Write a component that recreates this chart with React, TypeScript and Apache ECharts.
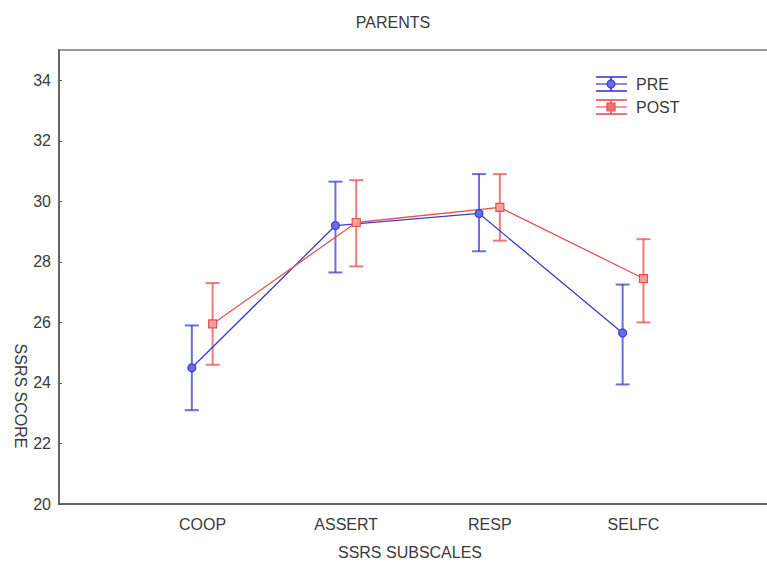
import React, { useEffect, useRef } from "react";
import * as echarts from "echarts";

const categories = ["COOP", "ASSERT", "RESP", "SELFC"];
const preMean = [24.5, 29.2, 29.6, 25.65];
const preLow = [23.1, 27.65, 28.35, 23.95];
const preHigh = [25.9, 30.65, 30.9, 27.25];
const postMean = [25.95, 29.3, 29.8, 27.45];
const postLow = [24.6, 27.85, 28.7, 26.0];
const postHigh = [27.3, 30.7, 30.9, 28.75];
const yTicks = [20, 22, 24, 26, 28, 30, 32, 34];

const PRE_OFFSET = -0.075;
const POST_OFFSET = 0.07;
const BLUE = "#3c3cd6";
const RED = "#e85050";
const FONT = "Liberation Sans, Arial, sans-serif";
const TXT = "#3a3a3a";
const FS = 16;

function errorSeries(name: string, low: number[], high: number[], off: number, color: string) {
  return {
    type: "custom",
    name,
    silent: true,
    z: 3,
    data: low.map((l, i) => [i + 1 + off, l, high[i]]),
    renderItem: (params: any, api: any) => {
      const x = api.value(0);
      const lo = api.coord([x, api.value(1)]);
      const hi = api.coord([x, api.value(2)]);
      const w = 7;
      const style = { stroke: color, lineWidth: 2, opacity: 0.75 };
      return {
        type: "group",
        children: [
          { type: "line", shape: { x1: lo[0], y1: lo[1], x2: hi[0], y2: hi[1] }, style },
          { type: "line", shape: { x1: hi[0] - w, y1: hi[1], x2: hi[0] + w, y2: hi[1] }, style },
          { type: "line", shape: { x1: lo[0] - w, y1: lo[1], x2: lo[0] + w, y2: lo[1] }, style },
        ],
      };
    },
  };
}

function legendItem(y: number, color: string, fill: string, label: string, symbol: "circle" | "rect") {
  const x0 = 596, x1 = 627, cx = 611;
  const ls = { stroke: color, lineWidth: 2, opacity: 0.8 };
  return [
    { type: "line", shape: { x1: x0, y1: y - 7, x2: x1, y2: y - 7 }, style: ls },
    { type: "line", shape: { x1: x0, y1: y, x2: x1, y2: y }, style: { stroke: color, lineWidth: 1.2 } },
    { type: "line", shape: { x1: x0, y1: y + 7, x2: x1, y2: y + 7 }, style: ls },
    { type: "line", shape: { x1: cx, y1: y - 7, x2: cx, y2: y + 7 }, style: ls },
    symbol === "circle"
      ? { type: "circle", shape: { cx, cy: y, r: 4 }, style: { fill, stroke: color, lineWidth: 1.2 } }
      : { type: "rect", shape: { x: cx - 4, y: y - 4, width: 8, height: 8 }, style: { fill, stroke: color, lineWidth: 1.2 } },
    {
      type: "text",
      x: 636,
      y,
      style: { text: label, fill: TXT, font: `${FS}px ${FONT}`, textAlign: "left", textVerticalAlign: "middle" },
    },
  ];
}

export default function App() {
  const ref = useRef<HTMLDivElement>(null);
  useEffect(() => {
    if (!ref.current) return;
    const chart = echarts.init(ref.current, null, { renderer: "svg" });
    chart.setOption({
      animation: false,
      backgroundColor: "#ffffff",
      grid: {
        left: 59,
        top: 50,
        width: 718,
        height: 454,
        show: true,
        borderColor: "#777",
        borderWidth: 1.5,
        backgroundColor: "transparent",
      },
      xAxis: {
        type: "value",
        min: 0,
        max: 5,
        interval: 1,
        splitLine: { show: false },
        axisTick: { show: false },
        axisLine: { show: true, lineStyle: { color: "#666", width: 2 } },
        axisLabel: {
          color: TXT,
          fontSize: FS,
          fontFamily: FONT,
          margin: 12,
          formatter: (v: number) => categories[v - 1] ?? "",
        },
      },
      yAxis: {
        type: "value",
        min: 20,
        max: 35,
        interval: 2,
        splitLine: { show: false },
        axisLine: { show: true, lineStyle: { color: "#666", width: 2 } },
        axisTick: { show: true, inside: true, length: 3, lineStyle: { color: "#555" }, customValues: yTicks },
        axisLabel: {
          color: TXT,
          fontSize: FS,
          fontFamily: FONT,
          margin: 8,
          customValues: yTicks,
        },
      },
      series: [
        errorSeries("PRE-err", preLow, preHigh, PRE_OFFSET, BLUE),
        errorSeries("POST-err", postLow, postHigh, POST_OFFSET, RED),
        {
          type: "line",
          name: "PRE",
          z: 4,
          data: preMean.map((m, i) => [i + 1 + PRE_OFFSET, m]),
          lineStyle: { color: BLUE, width: 1.3 },
          symbol: "circle",
          symbolSize: 8,
          itemStyle: { color: "#6a6ae8", borderColor: BLUE, borderWidth: 1.2 },
        },
        {
          type: "line",
          name: "POST",
          z: 4,
          data: postMean.map((m, i) => [i + 1 + POST_OFFSET, m]),
          lineStyle: { color: RED, width: 1.3 },
          symbol: "rect",
          symbolSize: 8,
          itemStyle: { color: "#f4a0a0", borderColor: RED, borderWidth: 1.2 },
        },
      ],
      graphic: [
        {
          type: "text",
          x: 393,
          y: 22,
          style: { text: "PARENTS", fill: TXT, font: `${FS}px ${FONT}`, textAlign: "center", textVerticalAlign: "middle" },
        },
        {
          type: "text",
          x: 410,
          y: 552,
          style: { text: "SSRS SUBSCALES", fill: TXT, font: `${FS}px ${FONT}`, textAlign: "center", textVerticalAlign: "middle" },
        },
        {
          type: "text",
          x: 20,
          y: 396,
          rotation: -Math.PI / 2,
          style: { text: "SSRS SCORE", fill: TXT, font: `${FS}px ${FONT}`, textAlign: "center", textVerticalAlign: "middle" },
        },
        ...legendItem(84, BLUE, "#6a6ae8", "PRE", "circle"),
        ...legendItem(107, RED, "#f07070", "POST", "rect"),
      ],
    });
    return () => chart.dispose();
  }, []);
  return (
    <div style={{ position: "fixed", left: 0, top: 0, width: 767, height: 567, overflow: "hidden", background: "#fff" }}>
      <div ref={ref} style={{ width: 800, height: 567 }} />
    </div>
  );
}
